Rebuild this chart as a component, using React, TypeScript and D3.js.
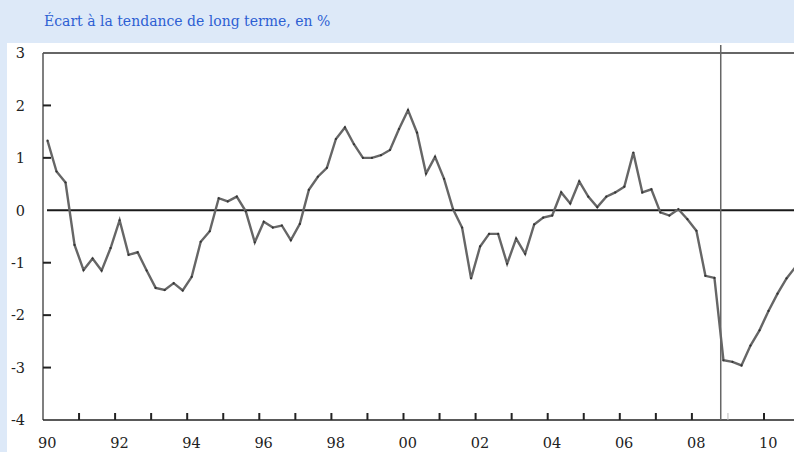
import React from "react";
import * as d3 from "d3";

const TITLE = "Écart à la tendance de long terme, en %";
const START_YEAR = 1990;
// Quarterly deviation from long-term trend, 1990Q1 – 2010Q4
const values: number[] = [
  1.33, 0.74, 0.53, -0.66,
  -1.14, -0.92, -1.15, -0.72,
  -0.19, -0.85, -0.8, -1.15,
  -1.48, -1.52, -1.39, -1.53,
  -1.27, -0.6, -0.4, 0.23,
  0.17, 0.26, -0.02, -0.61,
  -0.22, -0.33, -0.29, -0.57,
  -0.26, 0.39, 0.64, 0.81,
  1.36, 1.58, 1.26, 1.0,
  1.0, 1.05, 1.15, 1.55,
  1.91, 1.48, 0.7, 1.02,
  0.6, 0.02, -0.33, -1.3,
  -0.69, -0.45, -0.45, -1.02,
  -0.54, -0.83, -0.27, -0.14,
  -0.1, 0.34, 0.13, 0.55,
  0.26, 0.06, 0.26, 0.34,
  0.45, 1.1, 0.34, 0.4,
  -0.04, -0.1, 0.02, -0.17,
  -0.39, -1.25, -1.29, -2.86,
  -2.89, -2.96, -2.58, -2.29,
  -1.92, -1.59, -1.3, -1.08,
];
const yTicks = [3, 2, 1, 0, -1, -2, -3, -4];
const xLabelYears = [1990, 1992, 1994, 1996, 1998, 2000, 2002, 2004, 2006, 2008, 2010];
const xTickYears = d3.range(1991, 2011);
const MARKER_DATE = 2008.8;

const W = 794;
const H = 452;
const left = 43;
const top = 53;
const bottom = 420;

const SERIF = "DejaVu Serif";

export default function App() {
  React.useEffect(() => {
    document.body.style.margin = "0";
    document.body.style.overflow = "hidden";
  }, []);

  const x = d3.scaleLinear().domain([1990, 2011]).range([left, left + 21 * 36.05]);
  const y = d3.scaleLinear().domain([-4, 3]).range([bottom, top]);

  const pts = values.map((v, i) => ({ t: START_YEAR + i / 4 + 0.125, v }));
  const line = d3
    .line<{ t: number; v: number }>()
    .x((d) => x(d.t))
    .y((d) => y(d.v));

  return (
    <svg
      width={W}
      height={H}
      style={{ position: "absolute", left: 0, top: 0, display: "block" }}
    >
      <rect x={0} y={0} width={W} height={H} fill="#dde9f8" />
      <rect x={7} y={43} width={W - 7} height={H - 43} fill="#ffffff" />
      <text x={44} y={26} fontFamily={SERIF} fontSize={14} fill="#2d5fd3">
        {TITLE}
      </text>

      {/* frame */}
      <line x1={left} x2={W} y1={top} y2={top} stroke="#333" strokeWidth={1.5} />
      <line x1={left} x2={left} y1={top} y2={bottom} stroke="#555" strokeWidth={1.5} />
      <line x1={left} x2={W} y1={bottom} y2={bottom} stroke="#222" strokeWidth={1.5} />

      {/* y ticks */}
      {yTicks.map((t) => (
        <g key={"y" + t}>
          {t !== 3 && t !== -4 && t !== 0 && (
            <line x1={left} x2={left + 8} y1={y(t)} y2={y(t)} stroke="#222" strokeWidth={2} />
          )}
          <text
            x={25}
            y={y(t)}
            dy="0.36em"
            textAnchor="end"
            fontFamily={SERIF}
            fontSize={14.5}
            fill="#222"
          >
            {t}
          </text>
        </g>
      ))}

      {/* x ticks */}
      {xTickYears.map((yr) => (
        <line
          key={"xt" + yr}
          x1={x(yr)}
          x2={x(yr)}
          y1={bottom}
          y2={bottom - 7}
          stroke={yr === 2009 ? "#bbb" : "#222"}
          strokeWidth={yr === 2009 ? 1 : 2}
        />
      ))}
      {xLabelYears.map((yr) => (
        <text
          key={"xl" + yr}
          x={x(yr + 0.12)}
          y={448}
          textAnchor="middle"
          fontFamily={SERIF}
          fontSize={14.5}
          fill="#222"
        >
          {String(yr).slice(2)}
        </text>
      ))}

      {/* zero line */}
      <line x1={left + 4} x2={W} y1={y(0)} y2={y(0)} stroke="#1a1a1a" strokeWidth={2} />

      {/* marker vertical line */}
      <line
        x1={x(MARKER_DATE)}
        x2={x(MARKER_DATE)}
        y1={top - 8}
        y2={bottom}
        stroke="#666"
        strokeWidth={1.5}
      />

      {/* data line */}
      <path d={line(pts) || ""} fill="none" stroke="#666" strokeWidth={2.4} strokeLinejoin="miter" />
      {pts.map((d, i) => (
        <circle key={"p" + i} cx={x(d.t)} cy={y(d.v)} r={1.1} fill="#333" />
      ))}
    </svg>
  );
}
